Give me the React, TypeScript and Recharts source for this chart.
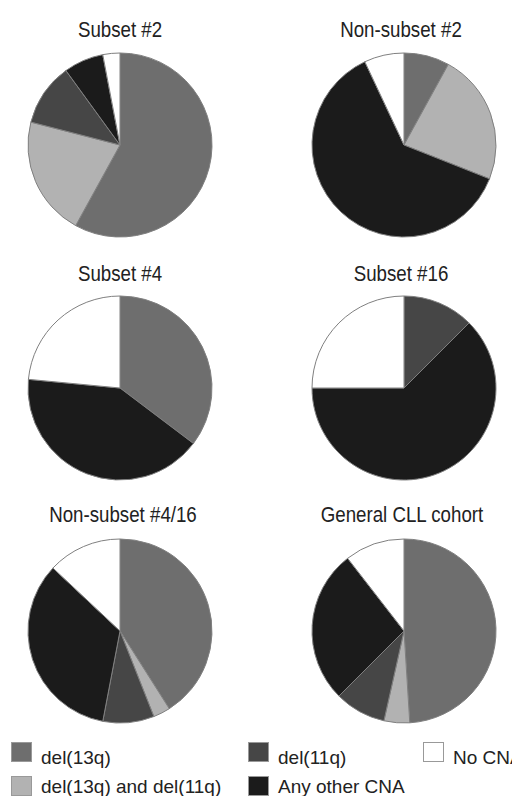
import { PieChart, Pie, Cell } from "recharts";

const categories = [
  "del(13q)",
  "del(13q) and del(11q)",
  "del(11q)",
  "Any other CNA",
  "No CNA",
];
const colors = ["#6e6e6e", "#b2b2b2", "#464646", "#1b1b1b", "#ffffff"];

// percentages, same order as categories
const subset2 = [58, 21, 11, 7, 3];
const nonSubset2 = [8, 23, 0, 62, 7];
const subset4 = [35.3, 0, 0, 41.2, 23.5];
const subset16 = [0, 0, 12.5, 62.5, 25];
const nonSubset416 = [41, 3, 9, 34, 13];
const generalCll = [49, 4.5, 9, 27, 10.5];

const panels = [
  { title: "Subset #2", values: subset2, cx: 120, cy: 145, tx: 120, ty: 37 },
  { title: "Non-subset #2", values: nonSubset2, cx: 404, cy: 145, tx: 401, ty: 37 },
  { title: "Subset #4", values: subset4, cx: 120, cy: 388, tx: 120, ty: 281 },
  { title: "Subset #16", values: subset16, cx: 404, cy: 388, tx: 401, ty: 281 },
  { title: "Non-subset #4/16", values: nonSubset416, cx: 120, cy: 631, tx: 123, ty: 522 },
  { title: "General CLL cohort", values: generalCll, cx: 404, cy: 631, tx: 402, ty: 522 },
];

const legendItems = [
  { idx: 0, x: 11, y: 742, textY: 758 },
  { idx: 2, x: 248, y: 742, textY: 758 },
  { idx: 4, x: 423, y: 742, textY: 758 },
  { idx: 1, x: 11, y: 776, textY: 787 },
  { idx: 3, x: 248, y: 776, textY: 787 },
];

const font = '"Liberation Sans", Arial, sans-serif';

export default function App() {
  return (
    <div
      style={{
        position: "absolute",
        left: 0,
        top: 0,
        width: 512,
        height: 796,
        background: "#fff",
        overflow: "hidden",
      }}
    >
      <PieChart width={512} height={796} margin={{ top: 0, right: 0, bottom: 0, left: 0 }}>
        {panels.map((p) => {
          const data = p.values
            .map((v, i) => ({ name: categories[i], value: v, fill: colors[i] }))
            .filter((d) => d.value > 0);
          return (
            <Pie
              key={p.title}
              data={data}
              dataKey="value"
              nameKey="name"
              cx={p.cx}
              cy={p.cy}
              outerRadius={92}
              startAngle={90}
              endAngle={-270}
              stroke="#808080"
              strokeWidth={1}
              isAnimationActive={false}
            >
              {data.map((d) => (
                <Cell key={d.name} fill={d.fill} />
              ))}
            </Pie>
          );
        })}
        {panels.map((p) => (
          <text
            key={p.title + "-t"}
            x={0}
            y={0}
            transform={`translate(${p.tx},${p.ty}) scale(0.85,1)`}
            textAnchor="middle"
            fontFamily={font}
            fontSize={22}
            fill="#222"
          >
            {p.title}
          </text>
        ))}
      </PieChart>

      {legendItems.map((l) => (
        <div key={l.idx}>
          <span
            style={{
              position: "absolute",
              left: l.x,
              top: l.y,
              width: 21,
              height: 20,
              boxSizing: "border-box",
              background: colors[l.idx],
              border: "1px solid #999",
            }}
          />
          <span
            style={{
              position: "absolute",
              left: l.x + 30,
              top: l.textY - 11,
              lineHeight: "22px",
              whiteSpace: "nowrap",
              fontFamily: font,
              fontSize: 19,
              color: "#222",
            }}
          >
            {categories[l.idx]}
          </span>
        </div>
      ))}
    </div>
  );
}
